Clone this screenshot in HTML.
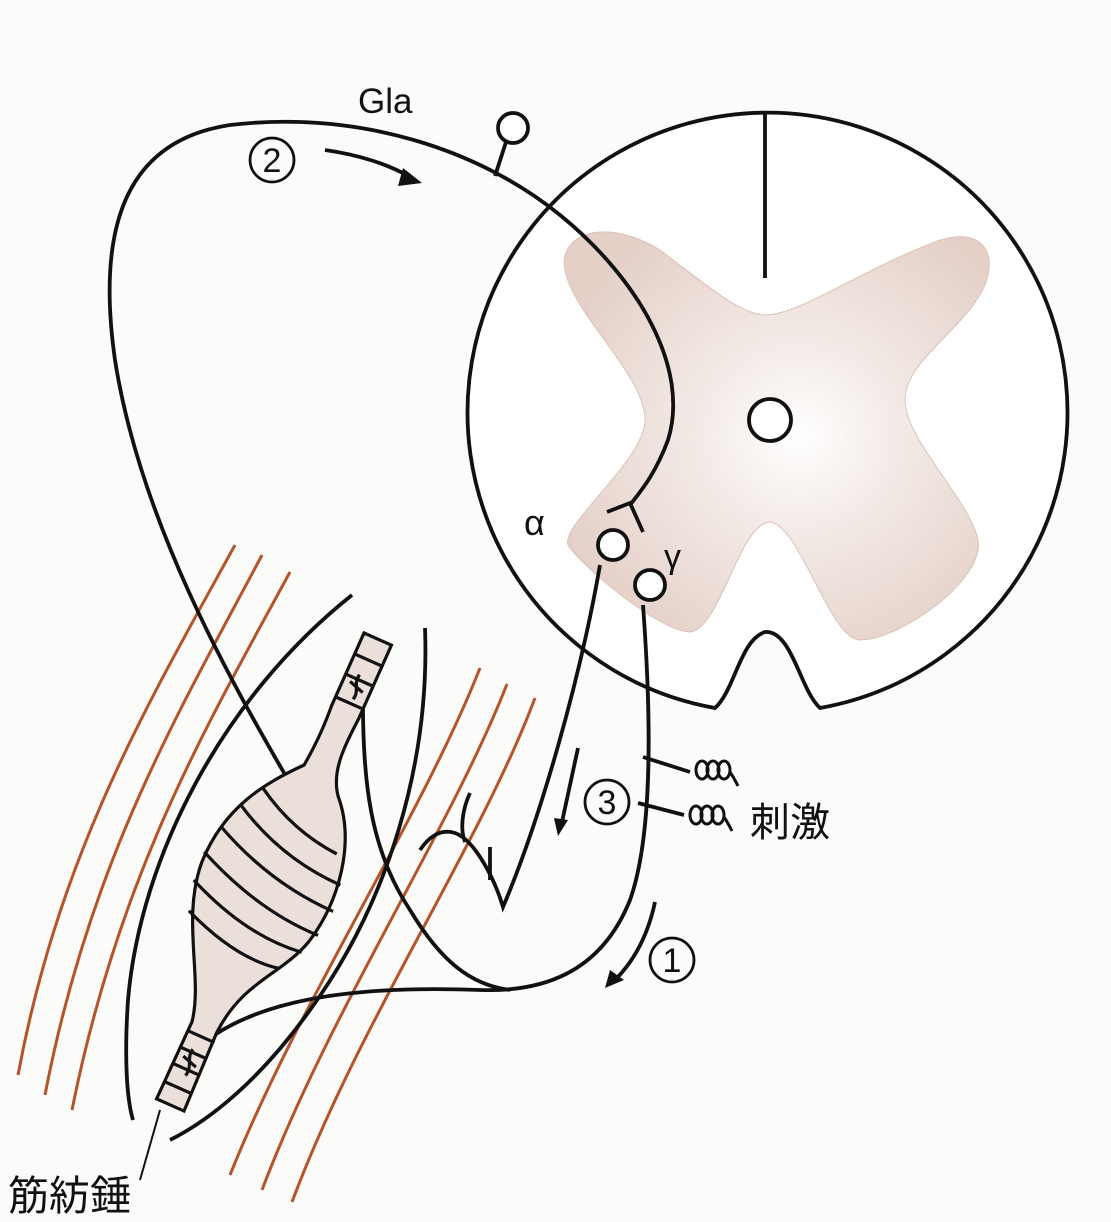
<!DOCTYPE html>
<html><head><meta charset="utf-8"><style>
html,body{margin:0;padding:0;background:#fbfbfa;}
svg{display:block}
text{font-family:"Liberation Sans","Noto Sans CJK JP",sans-serif;fill:#111}
</style></head><body>
<svg width="1111" height="1222" viewBox="0 0 1111 1222" xmlns="http://www.w3.org/2000/svg">
<defs>
<radialGradient id="gm" cx="0.55" cy="0.5" r="0.6">
<stop offset="0" stop-color="#ffffff"/><stop offset="0.35" stop-color="#f4ece9"/><stop offset="1" stop-color="#e4d0c7"/>
</radialGradient>
</defs>
<rect width="1111" height="1222" fill="#fbfbfa"/>

<g fill="none" stroke="#b5532b" stroke-width="3">
<path d="M235,545 C150,700 60,850 18,1075"/>
<path d="M262,555 C180,710 90,860 45,1095"/>
<path d="M290,572 C210,720 120,870 72,1110"/>
<path d="M480,668 C420,820 300,1000 230,1175"/>
<path d="M507,684 C450,830 330,1010 262,1190"/>
<path d="M535,698 C480,845 360,1020 292,1202"/>
</g>

<path d="M820,708 A300,300 0 1 0 715,708 C735,690 740,640 765,632 C792,630 800,690 820,708 Z" fill="#fff" stroke="#111" stroke-width="3.8"/>
<path d="M565,255 C575,225 620,225 660,250 C700,280 740,315 765,315 C800,315 860,270 940,240 C980,228 998,250 985,285 C965,330 905,360 905,400 C905,440 970,500 978,540 C985,580 900,640 860,640 C830,640 800,525 770,522 C740,522 720,630 690,632 C660,632 580,565 568,545 C560,525 645,460 645,420 C645,370 555,300 565,255 Z" fill="url(#gm)" stroke="#d9c3b9" stroke-width="1"/>
<line x1="765" y1="112" x2="765" y2="278" stroke="#111" stroke-width="3.8"/>
<circle cx="770" cy="420" r="21" fill="#fff" stroke="#111" stroke-width="3.8"/>

<g fill="none" stroke="#111" stroke-width="3.8">
<path d="M287,778 C230,680 140,520 115,360 C95,220 130,140 230,125 C360,110 480,150 560,215 C640,280 690,370 668,440 C655,475 640,492 630,505"/>
<path d="M607,512 L630,503 L643,532"/>
<line x1="495" y1="176" x2="506" y2="142"/>
</g>
<circle cx="513" cy="128" r="15" fill="#fff" stroke="#111" stroke-width="3.8"/>

<circle cx="613" cy="545" r="15" fill="#fff" stroke="#111" stroke-width="3.8"/>
<circle cx="650" cy="585" r="15" fill="#fff" stroke="#111" stroke-width="3.8"/>
<g fill="none" stroke="#111" stroke-width="3.8">
<path d="M600,565 C580,680 540,820 503,907 C495,880 475,840 455,833 C440,828 428,838 420,850"/>
<path d="M470,793 C462,810 460,830 465,842"/>
<path d="M490,847 L490,880"/>
<path d="M643,605 C650,700 655,830 630,900 C600,975 540,992 480,990 C350,985 250,1000 195,1050"/>
<path d="M363,690 C362,780 370,850 410,910 C440,960 470,985 510,990"/>
<path d="M352,595 C220,700 140,860 128,1000 C124,1060 127,1100 133,1120"/>
<path d="M425,628 C430,760 390,900 310,1010 C260,1080 210,1120 170,1140"/>
</g>

<g transform="translate(274,872) rotate(24)" stroke="#111" stroke-width="3.2">
<path d="M-15,-255 L15,-255 L15,-175 C13,-140 12,-115 28,-95 C62,-60 72,0 60,50 C48,92 16,112 13,170 L15,255 L-15,255 L-14,170 C-22,125 -66,80 -70,20 C-72,-40 -44,-78 -16,-110 C-13,-140 -14,-160 -15,-175 Z" fill="#ebdfd9"/>
<g fill="none">
<path d="M-15,-232 L15,-232 M-15,-210 L15,-210 M-15,-185 L15,-185"/>
<path d="M-15,180 L15,180 M-15,198 L15,198 M-15,216 L15,216 M-15,236 L15,236"/>
<path d="M-44,-72 Q0,-45 50,-42"/>
<path d="M-58,-48 Q0,-15 66,-15"/>
<path d="M-67,-20 Q0,12 70,12"/>
<path d="M-72,10 Q0,42 66,40"/>
<path d="M-70,40 Q0,70 58,62"/>
<path d="M-62,70 Q0,95 44,86"/>
<path d="M-2,-215 C-5,-205 5,-200 2,-190 M-8,-205 L8,-200"/>
<path d="M-2,195 C-5,205 5,210 2,222 M-8,205 L8,210"/>
</g>
</g>

<line x1="160" y1="1110" x2="140" y2="1180" stroke="#111" stroke-width="2"/>

<g fill="none" stroke="#111" stroke-width="3.8">
<path d="M325,150 C360,155 390,165 410,177"/>
<line x1="578" y1="748" x2="562" y2="822"/>
<path d="M655,902 C648,935 635,960 615,980"/>
<path d="M643,757 L690,772"/>
<path d="M638,803 L684,815"/>
</g>
<g fill="none" stroke="#111" stroke-width="3">
<ellipse cx="702" cy="770" rx="6" ry="9"/>
<ellipse cx="713" cy="770" rx="6" ry="9"/>
<ellipse cx="724" cy="770" rx="6" ry="9"/>
<path d="M730,772 C734,778 736,782 738,786"/>
<ellipse cx="696" cy="815" rx="6" ry="9"/>
<ellipse cx="707" cy="815" rx="6" ry="9"/>
<ellipse cx="718" cy="815" rx="6" ry="9"/>
<path d="M724,817 C728,823 730,827 732,831"/>
</g>
<polygon points="403,168 422,183 398,186" fill="#111"/>
<polygon points="554,818 568,820 558,836" fill="#111"/>
<polygon points="605,988 624,980 610,970" fill="#111"/>

<g fill="none" stroke="#111" stroke-width="2.8">
<circle cx="272" cy="160" r="22"/>
<circle cx="607" cy="802" r="22"/>
<circle cx="672" cy="960" r="22"/>
</g>
<text x="272" y="172" font-size="34" text-anchor="middle">2</text>
<text x="607" y="814" font-size="34" text-anchor="middle">3</text>
<text x="672" y="972" font-size="34" text-anchor="middle">1</text>

<text x="358" y="113" font-size="35">Gla</text>
<text x="524" y="535" font-size="36" font-family="Liberation Serif,serif">α</text>
<text x="664" y="568" font-size="34" font-family="Liberation Serif,serif">γ</text>
<text x="750" y="836" font-size="40">刺激</text>
<text x="8" y="1210" font-size="41">筋紡錘</text>
</svg>
</body></html>
